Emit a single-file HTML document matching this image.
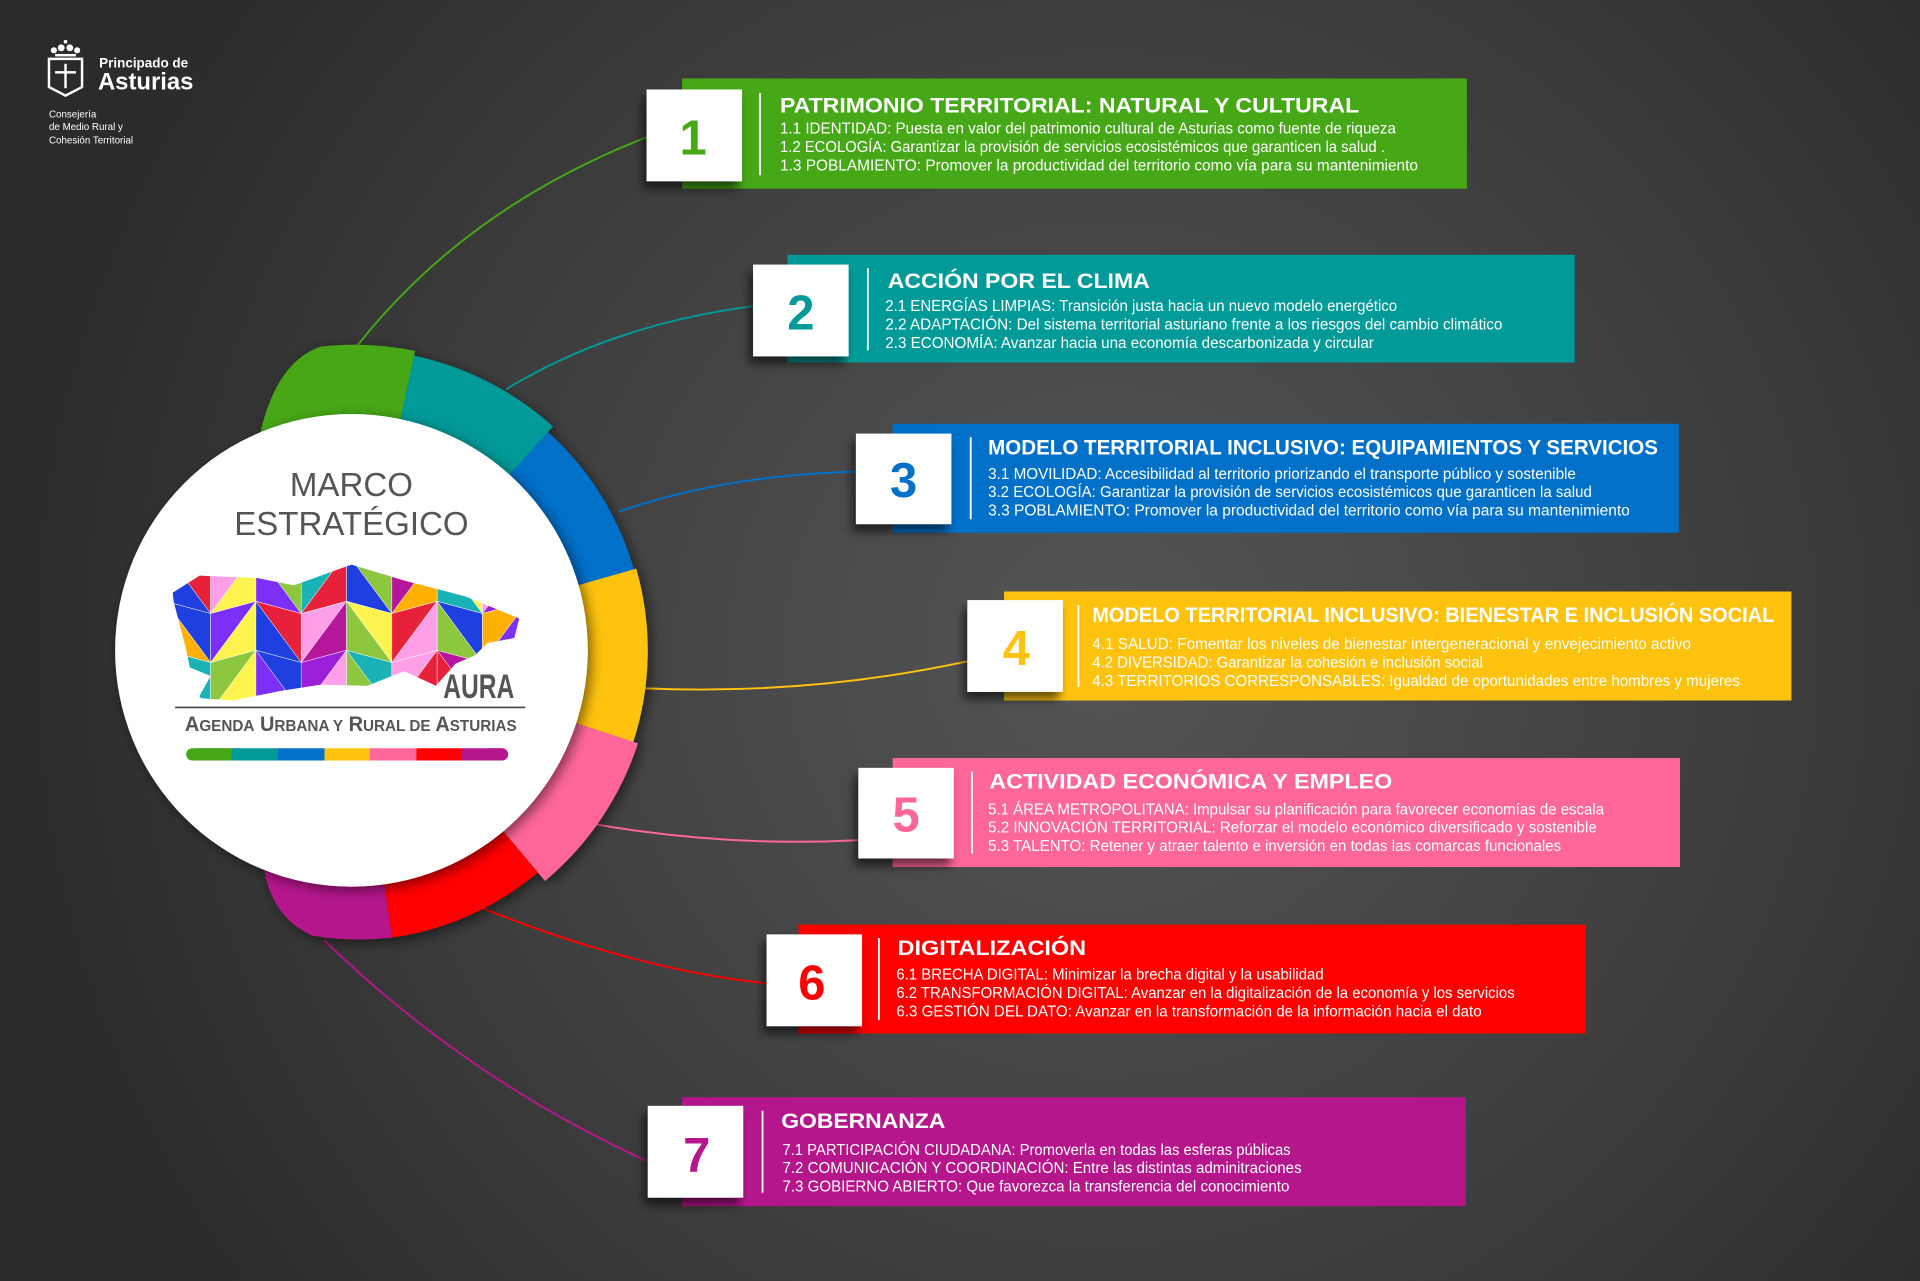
<!DOCTYPE html>
<html><head><meta charset="utf-8"><style>
html,body{margin:0;padding:0;background:#333}
svg{display:block}
.t{font-family:"Liberation Sans",sans-serif;font-weight:bold;fill:#fff;font-size:17px}
.b{font-family:"Liberation Sans",sans-serif;fill:#fff;font-size:12.5px}
.n{font-family:"Liberation Sans",sans-serif;font-weight:bold;font-size:40px;text-anchor:middle}
</style></head><body>
<svg width="1920" height="1281" viewBox="0 0 1568 1046" xmlns="http://www.w3.org/2000/svg">
<defs>
<radialGradient id="bg" cx="900" cy="530" r="900" gradientUnits="userSpaceOnUse">
<stop offset="0" stop-color="#555"/><stop offset="0.6" stop-color="#3d3d3d"/><stop offset="1" stop-color="#2b2b2b"/></radialGradient>
<filter id="sh" x="-30%" y="-30%" width="160%" height="170%"><feDropShadow dx="-3" dy="6" stdDeviation="4" flood-color="#000" flood-opacity="0.6"/></filter>
<filter id="cs" x="-20%" y="-20%" width="140%" height="140%"><feDropShadow dx="3" dy="3" stdDeviation="5" flood-color="#000" flood-opacity="0.5"/></filter>
<clipPath id="map"><polygon points="141,484 163,470 210,472 240,478 287,461 330,474 380,487 424,505 420,521 398,525 388,535 372,542 356,560 330,548 300,560 262,559 230,564 190,572 162,570 172,552 155,545 152,530 142,492"/></clipPath>
</defs>
<rect width="1568" height="1046" fill="url(#bg)"/>

<!-- logo -->
<g fill="#fff">
<circle cx="44" cy="41" r="2.5"/><circle cx="50" cy="39" r="2.8"/><circle cx="57" cy="39" r="2.8"/><circle cx="63" cy="41" r="2.5"/><circle cx="53.5" cy="34" r="1.5"/>
<rect x="45" y="44" width="17" height="2"/>
<path d="M40,48 H67 V71 L53.5,78 L40,71 Z" fill="none" stroke="#fff" stroke-width="2"/>
<rect x="52.5" y="52" width="2" height="20"/><rect x="45" y="58" width="17" height="2"/>
<text x="81" y="55" style="font-family:'Liberation Sans',sans-serif;font-weight:bold;font-size:11px">Principado de</text>
<text x="80" y="73" style="font-family:'Liberation Sans',sans-serif;font-weight:bold;font-size:19.5px">Asturias</text>
<text x="40" y="96" style="font-family:'Liberation Sans',sans-serif;font-size:8px">Consejería</text>
<text x="40" y="106" style="font-family:'Liberation Sans',sans-serif;font-size:8px">de Medio Rural y</text>
<text x="40" y="117" style="font-family:'Liberation Sans',sans-serif;font-size:8px">Cohesión Territorial</text>
</g>

<!-- connectors -->
<g fill="none" stroke-width="1.6">
<path d="M292,282 Q380,170 528,112" stroke="#46a717"/>
<path d="M413,318 Q500,265 615,250" stroke="#009a98"/>
<path d="M505,418 Q590,388 700,385" stroke="#0070c9"/>
<path d="M525,562 Q660,568 790,540" stroke="#ffc20e"/>
<path d="M480,672 Q590,692 702,686" stroke="#ff6699"/>
<path d="M395,742 Q520,792 626,803" stroke="#ff0000"/>
<path d="M265,768 Q380,880 528,948" stroke="#b5168c"/>
</g>

<!-- ring -->
<g filter="url(#cs)">
<path d="M212,356 C220,320 235,292 262,283 A250,250 0 0 1 339.0,286.5 L326.5,345.2 A190,190 0 0 0 212,356 Z" fill="#46a717"/>
<path d="M338.1,290.4 A246,246 0 0 1 451.6,348.2 L414.1,389.8 A190,190 0 0 0 326.5,345.2 Z" fill="#009a98"/>
<path d="M447.6,352.7 A240,240 0 0 1 517.7,464.9 L469.6,478.6 A190,190 0 0 0 414.1,389.8 Z" fill="#0070c9"/>
<path d="M519.6,464.3 A242,242 0 0 1 517.2,605.8 L467.7,589.7 A190,190 0 0 0 469.6,478.6 Z" fill="#ffc20e"/>
<path d="M521.0,607.0 A246,246 0 0 1 445.1,719.4 L409.1,676.5 A190,190 0 0 0 467.7,589.7 Z" fill="#ff6699"/>
<path d="M439.3,712.5 A237,237 0 0 1 320.0,765.7 L313.4,719.2 A190,190 0 0 0 409.1,676.5 Z" fill="#ff0000"/>
<path d="M320.0,765.7 A237,237 0 0 1 255,764 C235,755 222,740 216,712 L215.8,707.2 A190,190 0 0 0 313.4,719.2 Z" fill="#b5168c"/>
</g>
<circle cx="287" cy="531" r="193" fill="#fff" filter="url(#cs)"/>

<text x="287" y="405" text-anchor="middle" style="font-family:'Liberation Sans',sans-serif;font-size:27px;fill:#555">MARCO</text>
<text x="287" y="437" text-anchor="middle" style="font-family:'Liberation Sans',sans-serif;font-size:27px;fill:#555">ESTRATÉGICO</text>

<g clip-path="url(#map)" stroke="#fff" stroke-width="0.4">
<polygon points="135,451 172,461 172,501" fill="#e8213a"/><polygon points="135,451 172,501 135,491" fill="#1f3fe0"/>
<polygon points="172,461 209,451 172,501" fill="#ff9fe8"/><polygon points="209,451 209,491 172,501" fill="#fff44f"/>
<polygon points="209,451 246,461 246,501" fill="#8dc63f"/><polygon points="209,451 246,501 209,491" fill="#7b2ff7"/>
<polygon points="246,461 283,451 246,501" fill="#19b3b6"/><polygon points="283,451 283,491 246,501" fill="#e8213a"/>
<polygon points="283,451 320,461 320,501" fill="#8dc63f"/><polygon points="283,451 320,501 283,491" fill="#1f3fe0"/>
<polygon points="320,461 357,451 320,501" fill="#b5169c"/><polygon points="357,451 357,491 320,501" fill="#ffb000"/>
<polygon points="357,451 394,461 394,501" fill="#fff44f"/><polygon points="357,451 394,501 357,491" fill="#19b3b6"/>
<polygon points="394,461 431,451 394,501" fill="#ff9fe8"/><polygon points="431,451 431,491 394,501" fill="#9b1fd8"/>
<polygon points="135,491 172,501 172,541" fill="#1f3fe0"/><polygon points="135,491 172,541 135,531" fill="#ffb000"/>
<polygon points="172,501 209,491 172,541" fill="#7b2ff7"/><polygon points="209,491 209,531 172,541" fill="#fff44f"/>
<polygon points="209,491 246,501 246,541" fill="#e8213a"/><polygon points="209,491 246,541 209,531" fill="#1f3fe0"/>
<polygon points="246,501 283,491 246,541" fill="#ff9fe8"/><polygon points="283,491 283,531 246,541" fill="#b5169c"/>
<polygon points="283,491 320,501 320,541" fill="#fff44f"/><polygon points="283,491 320,541 283,531" fill="#8dc63f"/>
<polygon points="320,501 357,491 320,541" fill="#e8213a"/><polygon points="357,491 357,531 320,541" fill="#ff9fe8"/>
<polygon points="357,491 394,501 394,541" fill="#1f3fe0"/><polygon points="357,491 394,541 357,531" fill="#8dc63f"/>
<polygon points="394,501 431,491 394,541" fill="#ffb000"/><polygon points="431,491 431,531 394,541" fill="#7b2ff7"/>
<polygon points="135,531 172,541 172,581" fill="#19b3b6"/><polygon points="135,531 172,581 135,571" fill="#fff44f"/>
<polygon points="172,541 209,531 172,581" fill="#8dc63f"/><polygon points="209,531 209,571 172,581" fill="#fff44f"/>
<polygon points="209,531 246,541 246,581" fill="#1f3fe0"/><polygon points="209,531 246,581 209,571" fill="#7b2ff7"/>
<polygon points="246,541 283,531 246,581" fill="#9b1fd8"/><polygon points="283,531 283,571 246,581" fill="#ff9fe8"/>
<polygon points="283,531 320,541 320,581" fill="#19b3b6"/><polygon points="283,531 320,581 283,571" fill="#8dc63f"/>
<polygon points="320,541 357,531 320,581" fill="#ff9fe8"/><polygon points="357,531 357,571 320,581" fill="#e8213a"/>
<polygon points="357,531 394,541 394,581" fill="#b5169c"/><polygon points="357,531 394,581 357,571" fill="#e8213a"/>
<polygon points="394,541 431,531 394,581" fill="#8dc63f"/><polygon points="431,531 431,571 394,581" fill="#fff44f"/>
</g>
<text x="420" y="570" text-anchor="end" textLength="58" lengthAdjust="spacingAndGlyphs" style="font-family:'Liberation Sans',sans-serif;font-weight:bold;font-size:28px;fill:#555">AURA</text>
<rect x="143" y="577" width="286" height="1.3" fill="#444"/>
<text x="151" y="597" textLength="271" lengthAdjust="spacingAndGlyphs" style="font-family:'Liberation Sans',sans-serif;font-weight:bold;font-size:17px;fill:#555">A<tspan font-size="13">GENDA</tspan> U<tspan font-size="13">RBANA Y</tspan> R<tspan font-size="13">URAL DE</tspan> A<tspan font-size="13">STURIAS</tspan></text>
<g>
<rect x="152" y="611" width="40" height="10" rx="5" fill="#46a717"/><rect x="160" y="611" width="37" height="10" fill="#46a717"/>
<rect x="189" y="611" width="38" height="10" fill="#009a98"/>
<rect x="227" y="611" width="38" height="10" fill="#0070c9"/>
<rect x="265" y="611" width="38" height="10" fill="#ffc20e"/>
<rect x="302" y="611" width="38" height="10" fill="#ff6699"/>
<rect x="340" y="611" width="38" height="10" fill="#ff0000"/>
<rect x="377" y="611" width="33" height="10" fill="#b5168c"/><rect x="395" y="611" width="20" height="10" rx="5" fill="#b5168c"/>
</g>

<!-- bar 1 -->
<rect x="557" y="64" width="641" height="90" fill="#46a717"/>
<rect x="528" y="73" width="78" height="75" fill="#fff" filter="url(#sh)"/>
<text x="566" y="126" class="n" fill="#46a717">1</text>
<rect x="620" y="76" width="1.5" height="67" fill="#fff"/>
<text x="637" y="92" class="t" textLength="473" lengthAdjust="spacingAndGlyphs">PATRIMONIO TERRITORIAL: NATURAL Y CULTURAL</text>
<text x="637" y="109" class="b" textLength="503" lengthAdjust="spacingAndGlyphs">1.1 IDENTIDAD: Puesta en valor del patrimonio cultural de Asturias como fuente de riqueza</text>
<text x="637" y="124" class="b" textLength="494" lengthAdjust="spacingAndGlyphs">1.2 ECOLOGÍA: Garantizar la provisión de servicios ecosistémicos que garanticen la salud .</text>
<text x="637" y="139" class="b" textLength="521" lengthAdjust="spacingAndGlyphs">1.3 POBLAMIENTO: Promover la productividad del territorio como vía para su mantenimiento</text>

<!-- bar 2 -->
<rect x="643" y="208" width="643" height="88" fill="#009a98"/>
<rect x="615" y="216" width="78" height="75" fill="#fff" filter="url(#sh)"/>
<text x="654" y="269" class="n" fill="#009a98">2</text>
<rect x="708" y="219" width="1.5" height="67" fill="#fff"/>
<text x="725" y="235" class="t" textLength="214" lengthAdjust="spacingAndGlyphs">ACCIÓN POR EL CLIMA</text>
<text x="723" y="254" class="b" textLength="418" lengthAdjust="spacingAndGlyphs">2.1 ENERGÍAS LIMPIAS: Transición justa hacia un nuevo modelo energético</text>
<text x="723" y="269" class="b" textLength="504" lengthAdjust="spacingAndGlyphs">2.2 ADAPTACIÓN: Del sistema territorial asturiano frente a los riesgos del cambio climático</text>
<text x="723" y="284" class="b" textLength="399" lengthAdjust="spacingAndGlyphs">2.3 ECONOMÍA: Avanzar hacia una economía descarbonizada y circular</text>

<!-- bar 3 -->
<rect x="729" y="346" width="642" height="89" fill="#0070c9"/>
<rect x="699" y="354" width="78" height="74" fill="#fff" filter="url(#sh)"/>
<text x="738" y="406" class="n" fill="#0070c9">3</text>
<rect x="792" y="357" width="1.5" height="67" fill="#fff"/>
<text x="807" y="371" class="t" textLength="547" lengthAdjust="spacingAndGlyphs">MODELO TERRITORIAL INCLUSIVO: EQUIPAMIENTOS Y SERVICIOS</text>
<text x="807" y="391" class="b" textLength="480" lengthAdjust="spacingAndGlyphs">3.1 MOVILIDAD: Accesibilidad al territorio priorizando el transporte público y sostenible</text>
<text x="807" y="406" class="b" textLength="493" lengthAdjust="spacingAndGlyphs">3.2 ECOLOGÍA: Garantizar la provisión de servicios ecosistémicos que garanticen la salud</text>
<text x="807" y="421" class="b" textLength="524" lengthAdjust="spacingAndGlyphs">3.3 POBLAMIENTO: Promover la productividad del territorio como vía para su mantenimiento</text>

<!-- bar 4 -->
<rect x="820" y="483" width="643" height="89" fill="#ffc20e"/>
<rect x="790" y="490" width="78" height="75" fill="#fff" filter="url(#sh)"/>
<text x="830" y="543" class="n" fill="#ffc20e">4</text>
<rect x="880" y="494" width="1.5" height="67" fill="#fff"/>
<text x="892" y="508" class="t" textLength="557" lengthAdjust="spacingAndGlyphs">MODELO TERRITORIAL INCLUSIVO: BIENESTAR E INCLUSIÓN SOCIAL</text>
<text x="892" y="530" class="b" textLength="489" lengthAdjust="spacingAndGlyphs">4.1 SALUD: Fomentar los niveles de bienestar intergeneracional y envejecimiento activo</text>
<text x="892" y="545" class="b" textLength="319" lengthAdjust="spacingAndGlyphs">4.2 DIVERSIDAD: Garantizar la cohesión e inclusión social</text>
<text x="892" y="560" class="b" textLength="529" lengthAdjust="spacingAndGlyphs">4.3 TERRITORIOS CORRESPONSABLES: Igualdad de oportunidades  entre hombres y mujeres</text>

<!-- bar 5 -->
<rect x="729" y="619" width="643" height="89" fill="#ff6699"/>
<rect x="701" y="627" width="78" height="74" fill="#fff" filter="url(#sh)"/>
<text x="740" y="679" class="n" fill="#ff6699">5</text>
<rect x="793" y="630" width="1.5" height="67" fill="#fff"/>
<text x="808" y="644" class="t" textLength="329" lengthAdjust="spacingAndGlyphs">ACTIVIDAD ECONÓMICA Y EMPLEO</text>
<text x="807" y="665" class="b" textLength="503" lengthAdjust="spacingAndGlyphs">5.1 ÁREA METROPOLITANA: Impulsar su planificación para favorecer economías de escala</text>
<text x="807" y="680" class="b" textLength="497" lengthAdjust="spacingAndGlyphs">5.2 INNOVACIÓN TERRITORIAL: Reforzar el modelo económico diversificado y sostenible</text>
<text x="807" y="695" class="b" textLength="468" lengthAdjust="spacingAndGlyphs">5.3 TALENTO: Retener y atraer talento e inversión en todas las comarcas funcionales</text>

<!-- bar 6 -->
<rect x="652" y="755" width="643" height="89" fill="#ff0000"/>
<rect x="626" y="763" width="78" height="75" fill="#fff" filter="url(#sh)"/>
<text x="663" y="816" class="n" fill="#ff0000">6</text>
<rect x="717" y="766" width="1.5" height="67" fill="#fff"/>
<text x="733" y="780" class="t" textLength="154" lengthAdjust="spacingAndGlyphs">DIGITALIZACIÓN</text>
<text x="732" y="800" class="b" textLength="349" lengthAdjust="spacingAndGlyphs">6.1 BRECHA DIGITAL: Minimizar la brecha digital y la usabilidad</text>
<text x="732" y="815" class="b" textLength="505" lengthAdjust="spacingAndGlyphs">6.2 TRANSFORMACIÓN DIGITAL: Avanzar en la digitalización de la economía y los servicios</text>
<text x="732" y="830" class="b" textLength="478" lengthAdjust="spacingAndGlyphs">6.3 GESTIÓN DEL DATO: Avanzar en la transformación de la información hacia el dato</text>

<!-- bar 7 -->
<rect x="557" y="896" width="640" height="89" fill="#b5168c"/>
<rect x="529" y="903" width="78" height="75" fill="#fff" filter="url(#sh)"/>
<text x="569" y="957" class="n" fill="#b5168c">7</text>
<rect x="622" y="907" width="1.5" height="67" fill="#fff"/>
<text x="638" y="921" class="t" textLength="134" lengthAdjust="spacingAndGlyphs">GOBERNANZA</text>
<text x="639" y="943" class="b" textLength="415" lengthAdjust="spacingAndGlyphs">7.1 PARTICIPACIÓN CIUDADANA: Promoverla en todas las esferas públicas</text>
<text x="639" y="958" class="b" textLength="424" lengthAdjust="spacingAndGlyphs">7.2 COMUNICACIÓN Y COORDINACIÓN: Entre las distintas adminitraciones</text>
<text x="639" y="973" class="b" textLength="414" lengthAdjust="spacingAndGlyphs">7.3 GOBIERNO ABIERTO: Que favorezca la transferencia del conocimiento</text>
</svg>
</body></html>
